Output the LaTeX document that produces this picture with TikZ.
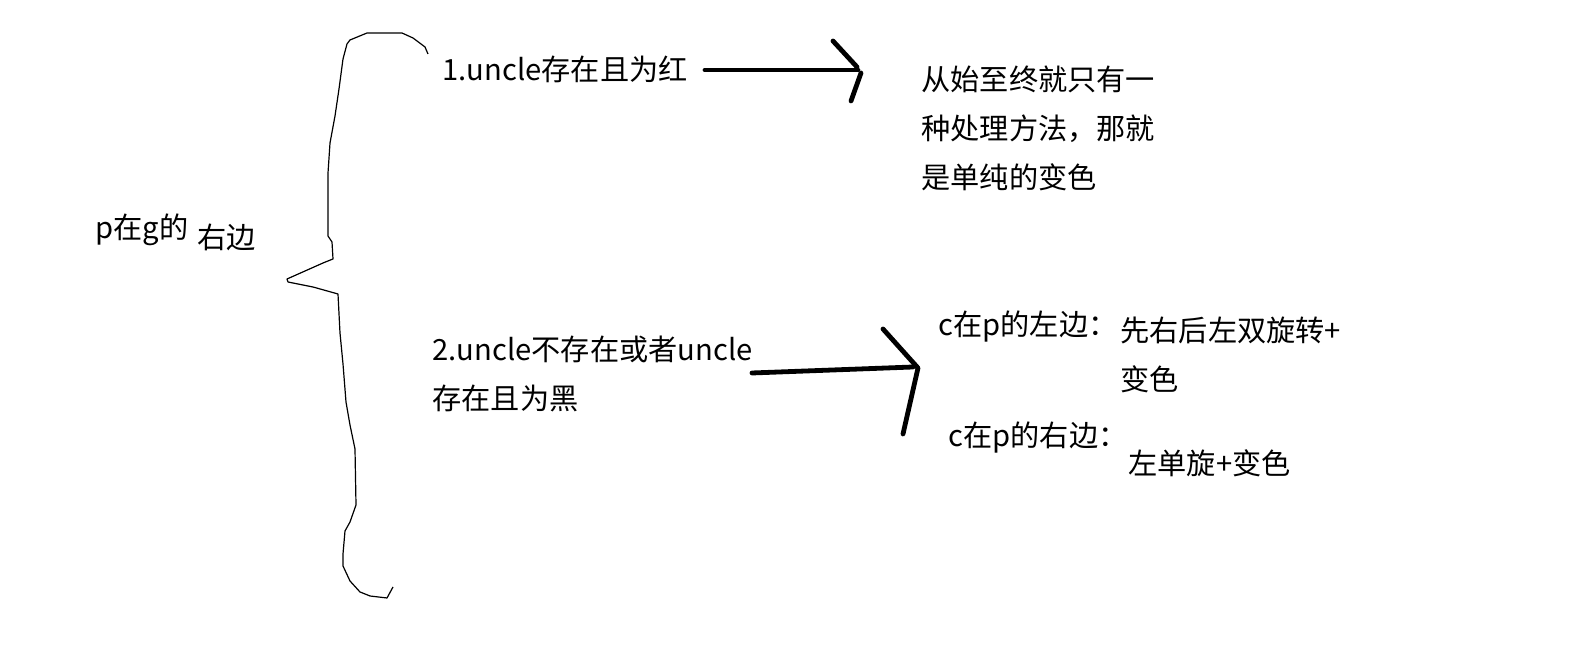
\documentclass[tikz,border=0pt]{standalone}
\usepackage{fontspec}
\setmainfont{Noto Sans CJK SC}
\usepackage{tikz}
\newcommand\notefont{\fontsize{14.6}{24.5}\selectfont}

\begin{document}
\begin{tikzpicture}[x=0.5pt, y=-0.5pt, txt/.style={anchor=west, inner sep=0pt, align=left, font=\notefont}, stroke/.style={line width=2.4pt, line cap=round, line join=round}, brace/.style={line width=0.6pt, line join=round}]
\useasboundingbox[fill=white] (0,0) rectangle (1570,672);
\node[txt] (pg) at (95,230) {p在g的};
\node[txt] (pgright) at (197,237) {右边};
\node[txt] (case1) at (442,69) {1.uncle存在且为红};
\node[txt] (recolor) at (921,128) {从始至终就只有一\\种处理方法，那就\\是单纯的变色};
\node[txt] (case2) at (432,374) {2.uncle不存在或者uncle\\存在且为黑};
\node[txt] (cleft) at (938,327) {c在p的左边：};
\node[txt] (dblrot) at (1120,355) {先右后左双旋转+\\变色};
\node[txt] (cright) at (948,438) {c在p的右边：};
\node[txt] (sglrot) at (1128,463) {左单旋+变色};
\coordinate (a1s) at (705,70);
\coordinate (a1e) at (858,70);
\coordinate (a2s) at (752,373);
\coordinate (a2e) at (913,367);
\draw[brace] (428,54) -- (425,47) -- (413,38) -- (402,33) -- (367,33) -- (350,40) -- (347,44) -- (343,59) -- (339,89) -- (335,116) -- (330,143) -- (328,173) -- (328,236) -- (332,242) -- (333,259) -- (323,263) -- (287,279) -- (288,282) -- (313,287) -- (338,294) -- (340,333) -- (343,364) -- (346,402) -- (350,425) -- (355,449) -- (356,505) -- (350,522) -- (345,531) -- (343,554) -- (343,566) -- (350,581) -- (360,592) -- (370,596) -- (387,598) -- (393,587);
\draw[stroke] (a1s) -- (a1e);
\draw[stroke] (833,41) -- (857,67);
\draw[stroke] (861,73) -- (851,101);
\draw[stroke] (a2s) -- (a2e);
\draw[stroke] (883,329) -- (918,368) -- (903,434);
\end{tikzpicture}
\end{document}
